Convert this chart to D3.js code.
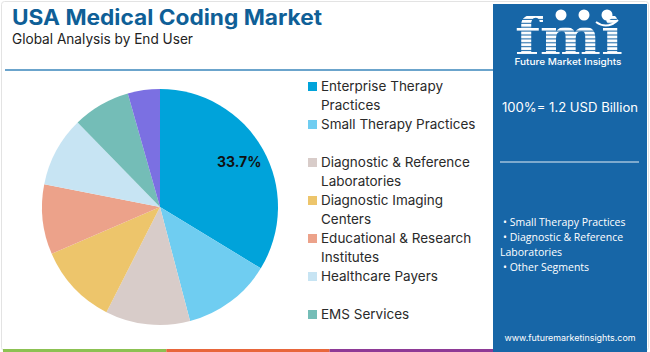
<!DOCTYPE html>
<html>
<head>
<meta charset="utf-8">
<script src="https://cdn.jsdelivr.net/npm/d3@7"></script>
<style>
  body { margin: 0; background: #fff; }
  svg { display: block; font-family: Inter, "Open Sans", sans-serif; }
</style>
</head>
<body>
<svg id="chart" width="650" height="352"></svg>
<script>
// data
const segments = ["Enterprise Therapy Practices", "Small Therapy Practices", "Diagnostic & Reference Laboratories",
  "Diagnostic Imaging Centers", "Educational & Research Institutes", "Healthcare Payers", "EMS Services", "Others"];
const shares = [33.7, 12.2, 11.6, 11.0, 9.6, 9.6, 7.9, 4.4];
const colors = ["#00a3da", "#6fcdf1", "#d8ccc9", "#edc56b", "#eca28a", "#c7e4f3", "#74bdb7", "#7b70e2"];
const legendLines = [
  ["Enterprise Therapy", "Practices"],
  ["Small Therapy Practices", ""],
  ["Diagnostic & Reference", "Laboratories"],
  ["Diagnostic Imaging", "Centers"],
  ["Educational & Research", "Institutes"],
  ["Healthcare Payers", ""],
  ["EMS Services", ""]
];
const panelBullets = ["• Small Therapy Practices", "• Diagnostic & Reference", "Laboratories", "• Other Segments"];
const totalText = "100%= 1.2 USD Billion";

const svg = d3.select("#chart");

// frame
svg.append("rect").attr("x", 1.5).attr("y", 1.5).attr("width", 647).attr("height", 349)
  .attr("fill", "none").attr("stroke", "#e3e3e3").attr("rx", 3);

// title
svg.append("text").attr("x", 12).attr("y", 25)
  .attr("font-size", 21).attr("font-weight", 700).attr("fill", "#0f5f97")
  .attr("textLength", 310).attr("lengthAdjust", "spacingAndGlyphs")
  .text("USA Medical Coding Market");
svg.append("text").attr("x", 12).attr("y", 44)
  .attr("font-size", 14).attr("fill", "#222")
  .attr("textLength", 181).attr("lengthAdjust", "spacingAndGlyphs")
  .text("Global Analysis by End User");

svg.append("line").attr("x1", 5).attr("x2", 493).attr("y1", 70).attr("y2", 70)
  .attr("stroke", "#3a86bb").attr("stroke-width", 1.5);

// pie
const cx = 160, cy = 207, r = 118;
const pie = d3.pie().sort(null).value(d => d)(shares);
const arc = d3.arc().innerRadius(0).outerRadius(r);
const labelArc = d3.arc().innerRadius(r * 0.77).outerRadius(r * 0.77);
const g = svg.append("g").attr("transform", `translate(${cx},${cy})`);
g.selectAll("path").data(pie).join("path")
  .attr("d", arc)
  .attr("fill", (d, i) => colors[i]);
g.append("text")
  .attr("transform", `translate(${labelArc.centroid(pie[0])})`)
  .attr("text-anchor", "middle").attr("dy", "0.35em")
  .attr("font-size", 14).attr("font-weight", 700).attr("fill", "#111")
  .text(d3.format(".1f")(shares[0]) + "%");

// legend
const ly = d3.scaleBand().domain(d3.range(legendLines.length)).range([77, 343]);
const leg = svg.append("g").selectAll("g").data(legendLines).join("g")
  .attr("transform", (d, i) => `translate(308,${ly(i)})`);
leg.append("rect").attr("x", 0).attr("y", 5).attr("width", 9).attr("height", 9)
  .attr("fill", (d, i) => colors[i]);
leg.selectAll("text").data(d => d).join("text")
  .attr("x", 13).attr("y", (d, j) => 14 + j * 19)
  .attr("font-size", 13.5).attr("fill", "#2a2a2a")
  .text(d => d);

// right panel
const px = 493;
svg.append("rect").attr("x", px).attr("y", 4).attr("width", 154).attr("height", 348)
  .attr("fill", "#1766a7");

// logo
const defs = svg.append("defs");
const pat = defs.append("pattern").attr("id", "stripes").attr("patternUnits", "userSpaceOnUse")
  .attr("width", 10).attr("height", 3);
pat.append("rect").attr("width", 10).attr("height", 2.2).attr("fill", "#fff");
svg.append("text").attr("x", 0).attr("y", 0).attr("text-anchor", "middle")
  .attr("font-family", "'DejaVu Serif', serif").attr("font-weight", 700).attr("font-size", 40)
  .attr("fill", "url(#stripes)")
  .attr("transform", "translate(569,55) scale(1,1.3)")
  .attr("textLength", 108).attr("lengthAdjust", "spacingAndGlyphs")
  .text("fmi");
[[561, 15], [584, 15], [607, 15]].forEach(p => {
  svg.append("circle").attr("cx", p[0]).attr("cy", p[1]).attr("r", 5.5).attr("fill", "#fff");
});
svg.append("path").attr("d", "M596,22 Q607,30 618,20").attr("fill", "none")
  .attr("stroke", "#fff").attr("stroke-width", 2);
svg.append("text").attr("x", 568).attr("y", 65).attr("text-anchor", "middle")
  .attr("font-size", 9).attr("font-weight", 500).attr("fill", "#fff")
  .attr("textLength", 107).attr("lengthAdjust", "spacingAndGlyphs")
  .text("Future Market Insights");

svg.append("text").attr("x", 502).attr("y", 112)
  .attr("font-size", 12.5).attr("fill", "#fff")
  .attr("textLength", 136).attr("lengthAdjust", "spacingAndGlyphs")
  .text(totalText);
svg.append("line").attr("x1", 500).attr("x2", 639).attr("y1", 162).attr("y2", 162)
  .attr("stroke", "#fff").attr("stroke-opacity", 0.6).attr("stroke-width", 1.5);

svg.append("g").selectAll("text").data(panelBullets).join("text")
  .attr("x", d => d.startsWith("•") ? 503 : 500)
  .attr("y", (d, i) => 226 + i * 15)
  .attr("font-family", "'Open Sans', sans-serif")
  .attr("font-size", 10.5).attr("fill", "#fff")
  .text(d => d);

svg.append("text").attr("x", 570).attr("y", 341).attr("text-anchor", "middle")
  .attr("font-size", 9).attr("fill", "#fff")
  .attr("textLength", 131).attr("lengthAdjust", "spacingAndGlyphs")
  .text("www.futuremarketinsights.com");

// bottom stripe
const stripe = ["#8cc152", "#e8663b", "#8e3a96"];
const sx = d3.scaleBand().domain(d3.range(3)).range([3, px]);
svg.append("g").selectAll("rect").data(stripe).join("rect")
  .attr("x", (d, i) => sx(i)).attr("y", 349).attr("width", sx.bandwidth()).attr("height", 3)
  .attr("fill", d => d);
</script>
</body>
</html>
